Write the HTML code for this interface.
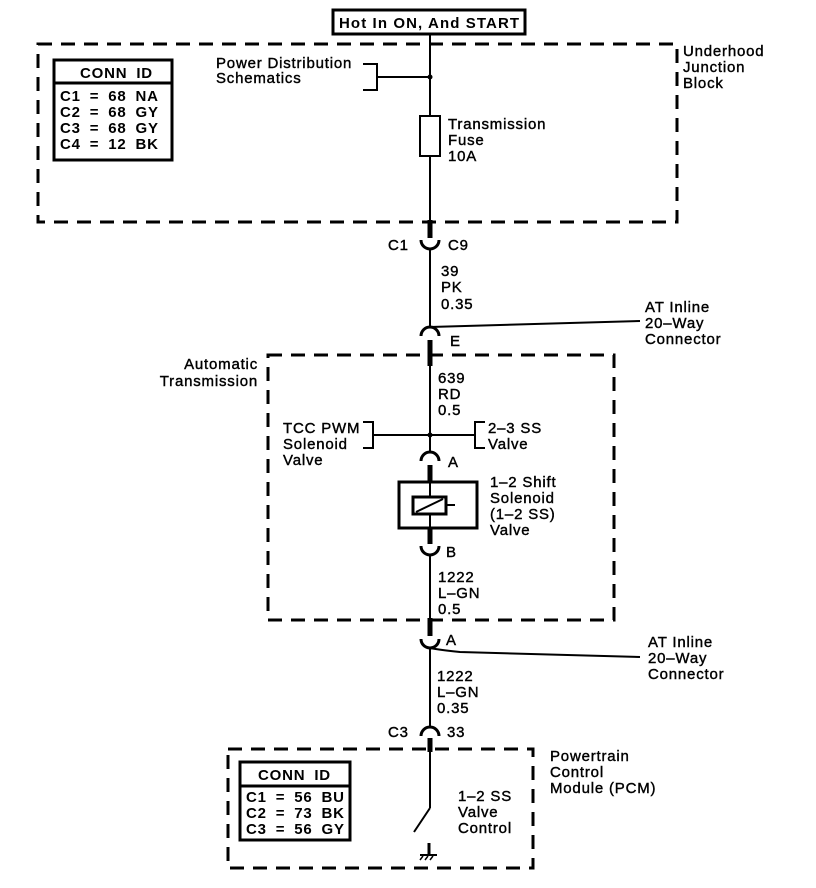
<!DOCTYPE html>
<html><head><meta charset="utf-8"><style>
html,body{margin:0;padding:0;background:#fff;}
svg{display:block;}
text{font-family:"Liberation Sans",Arial,sans-serif;font-size:15px;letter-spacing:0.8px;fill:#000;stroke:#000;stroke-width:0.4px;}
.b{font-weight:bold;stroke-width:0;}
.t{font-size:15px;letter-spacing:1.1px;}
.c{font-size:15px;letter-spacing:0.8px;word-spacing:4px;}
</style></head><body>
<svg width="816" height="888" viewBox="0 0 816 888" xmlns="http://www.w3.org/2000/svg">
<g fill="none" stroke="#000">
<rect x="38" y="44" width="639" height="178" stroke-width="3" stroke-dasharray="14,9"/>
<rect x="268" y="355" width="346" height="265" stroke-width="3" stroke-dasharray="14,9"/>
<rect x="228" y="749" width="305" height="119" stroke-width="3" stroke-dasharray="14,9"/>
<rect x="333" y="10" width="192" height="24" stroke-width="3" fill="#fff"/>
<rect x="54" y="60" width="118" height="100" stroke-width="3" fill="#fff"/>
<line x1="54" y1="83" x2="172" y2="83" stroke-width="3"/>
<rect x="240" y="762" width="110" height="78" stroke-width="3" fill="#fff"/>
<line x1="240" y1="786" x2="350" y2="786" stroke-width="3"/>
<line x1="430" y1="34" x2="430" y2="116" stroke-width="2"/>
<rect x="420" y="116" width="20" height="40" stroke-width="2"/>
<line x1="430" y1="156" x2="430" y2="222" stroke-width="2"/>
<line x1="430" y1="220" x2="430" y2="238" stroke-width="5"/>
<path d="M421,240 A9,9 0 0 0 439,240" stroke-width="3"/>
<line x1="430" y1="249" x2="430" y2="327" stroke-width="2"/>
<path d="M421,336 A9,9 0 0 1 439,336" stroke-width="3"/>
<line x1="430" y1="327" x2="640" y2="321" stroke-width="2"/>
<line x1="430" y1="340" x2="430" y2="366" stroke-width="5"/>
<line x1="430" y1="366" x2="430" y2="452" stroke-width="2"/>
<path d="M363,64 H377 V90 H363" stroke-width="2"/>
<line x1="377" y1="77" x2="430" y2="77" stroke-width="2"/>
<line x1="373" y1="435" x2="475" y2="435" stroke-width="2"/>
<path d="M363,422 H373 V448 H363" stroke-width="2"/>
<path d="M485,422 H475 V448 H485" stroke-width="2"/>
<path d="M421,461 A9,9 0 0 1 439,461" stroke-width="3"/>
<line x1="430" y1="465" x2="430" y2="482" stroke-width="5"/>
<rect x="399" y="482" width="78" height="46" stroke-width="3"/>
<line x1="430" y1="482" x2="430" y2="497" stroke-width="2"/>
<rect x="413" y="497" width="33" height="17" stroke-width="3"/>
<line x1="416" y1="512" x2="443" y2="499" stroke-width="2"/>
<line x1="446" y1="505" x2="455" y2="505" stroke-width="2"/>
<line x1="430" y1="514" x2="430" y2="528" stroke-width="2"/>
<line x1="430" y1="528" x2="430" y2="544" stroke-width="5"/>
<path d="M421,546 A9,9 0 0 0 439,546" stroke-width="3"/>
<line x1="430" y1="555" x2="430" y2="620" stroke-width="2"/>
<line x1="430" y1="618" x2="430" y2="636" stroke-width="5"/>
<path d="M421,639 A9,9 0 0 0 439,639" stroke-width="3"/>
<path d="M430,648 Q440,650 460,652 L640,657" stroke-width="2"/>
<line x1="430" y1="648" x2="430" y2="727" stroke-width="2"/>
<path d="M421,736 A9,9 0 0 1 439,736" stroke-width="3"/>
<line x1="430" y1="738" x2="430" y2="752" stroke-width="5"/>
<line x1="430" y1="752" x2="430" y2="808" stroke-width="2"/>
<line x1="430" y1="808" x2="414" y2="832" stroke-width="2"/>
<line x1="429" y1="843" x2="429" y2="855" stroke-width="3"/>
<line x1="420" y1="855" x2="437" y2="855" stroke-width="2"/>
<line x1="423" y1="856" x2="420" y2="860" stroke-width="1.5"/>
<line x1="428" y1="856" x2="425" y2="860" stroke-width="1.5"/>
<line x1="433" y1="856" x2="430" y2="860" stroke-width="1.5"/>
</g>
<circle cx="430" cy="77" r="2.5"/>
<circle cx="430" cy="435" r="2.5"/>
<text x="339" y="28" class="b t">Hot In ON, And START</text>
<text x="80" y="78" class="b c">CONN ID</text>
<text x="60" y="101" class="b c">C1 = 68 NA</text>
<text x="60" y="117" class="b c">C2 = 68 GY</text>
<text x="60" y="133" class="b c">C3 = 68 GY</text>
<text x="60" y="149" class="b c">C4 = 12 BK</text>
<text x="216" y="68">Power Distribution</text>
<text x="216" y="83">Schematics</text>
<text x="683" y="56">Underhood</text>
<text x="683" y="72">Junction</text>
<text x="683" y="88">Block</text>
<text x="448" y="129">Transmission</text>
<text x="448" y="145">Fuse</text>
<text x="448" y="161">10A</text>
<text x="388" y="250">C1</text>
<text x="448" y="250">C9</text>
<text x="441" y="276">39</text>
<text x="441" y="292">PK</text>
<text x="441" y="309">0.35</text>
<text x="645" y="312">AT Inline</text>
<text x="645" y="328">20–Way</text>
<text x="645" y="344">Connector</text>
<text x="450" y="346">E</text>
<text x="258" y="369" text-anchor="end">Automatic</text>
<text x="258" y="386" text-anchor="end">Transmission</text>
<text x="438" y="383">639</text>
<text x="438" y="399">RD</text>
<text x="438" y="415">0.5</text>
<text x="283" y="433">TCC PWM</text>
<text x="283" y="449">Solenoid</text>
<text x="283" y="465">Valve</text>
<text x="488" y="433">2–3 SS</text>
<text x="488" y="449">Valve</text>
<text x="448" y="467">A</text>
<text x="490" y="487">1–2 Shift</text>
<text x="490" y="503">Solenoid</text>
<text x="490" y="519">(1–2 SS)</text>
<text x="490" y="535">Valve</text>
<text x="446" y="557">B</text>
<text x="438" y="582">1222</text>
<text x="438" y="598">L–GN</text>
<text x="438" y="614">0.5</text>
<text x="446" y="645">A</text>
<text x="648" y="647">AT Inline</text>
<text x="648" y="663">20–Way</text>
<text x="648" y="679">Connector</text>
<text x="437" y="681">1222</text>
<text x="437" y="697">L–GN</text>
<text x="437" y="713">0.35</text>
<text x="388" y="737">C3</text>
<text x="447" y="737">33</text>
<text x="550" y="761">Powertrain</text>
<text x="550" y="777">Control</text>
<text x="550" y="793">Module (PCM)</text>
<text x="258" y="780" class="b c">CONN ID</text>
<text x="246" y="802" class="b c">C1 = 56 BU</text>
<text x="246" y="818" class="b c">C2 = 73 BK</text>
<text x="246" y="834" class="b c">C3 = 56 GY</text>
<text x="458" y="801">1–2 SS</text>
<text x="458" y="817">Valve</text>
<text x="458" y="833">Control</text>
</svg>
</body></html>
